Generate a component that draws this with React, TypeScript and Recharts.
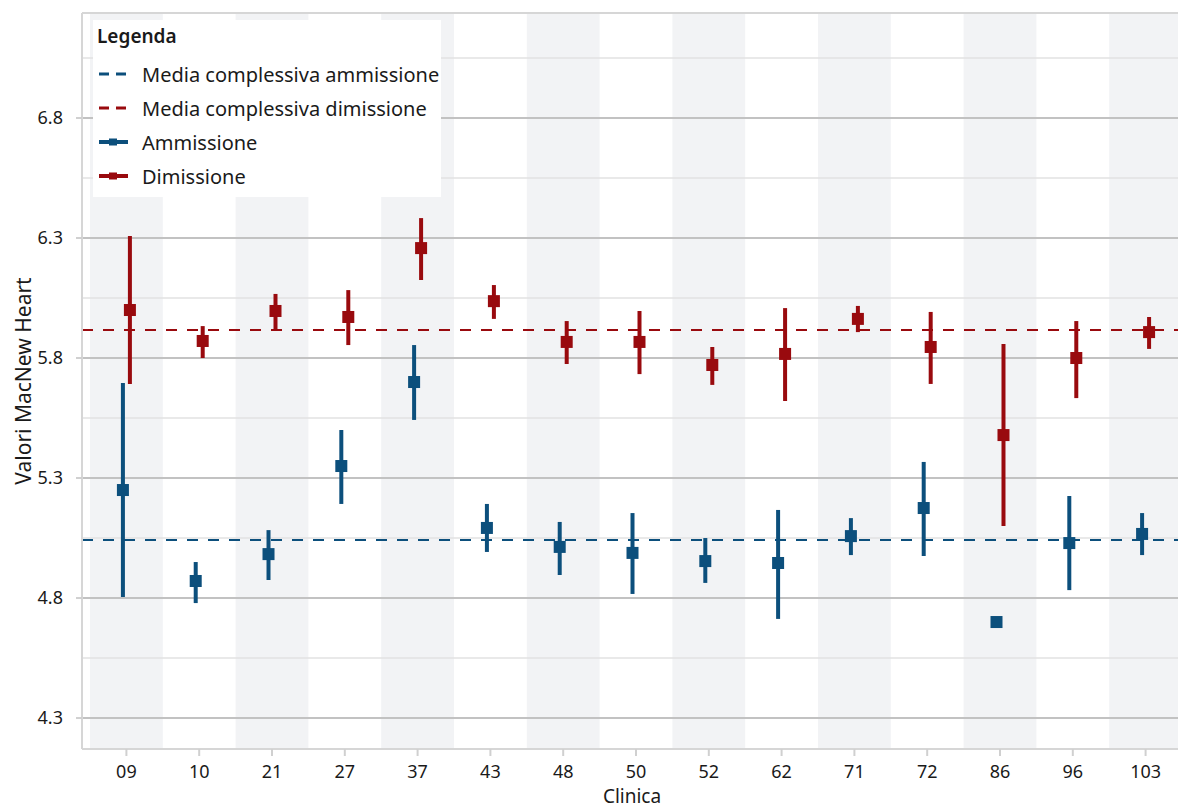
import React from 'react';
import {
  ScatterChart,
  Scatter,
  XAxis,
  YAxis,
  ErrorBar,
  ReferenceLine,
  ReferenceArea,
  Legend,
} from 'recharts';

const clinics = ['09', '10', '21', '27', '37', '43', '48', '50', '52', '62', '71', '72', '86', '96', '103'];

const admMean = [5.25, 4.871, 4.983, 5.35, 5.7, 5.092, 5.013, 4.988, 4.954, 4.946, 5.058, 5.175, 4.7, 5.029, 5.067];
const admLow = [4.804, 4.779, 4.875, 5.192, 5.542, 4.992, 4.896, 4.817, 4.863, 4.713, 4.979, 4.975, 4.7, 4.833, 4.979];
const admHigh = [5.696, 4.95, 5.083, 5.5, 5.854, 5.192, 5.117, 5.154, 5.05, 5.167, 5.133, 5.367, 4.7, 5.225, 5.154];

const disMean = [6.0, 5.871, 5.996, 5.971, 6.258, 6.037, 5.867, 5.867, 5.771, 5.817, 5.963, 5.846, 5.479, 5.8, 5.908];
const disLow = [5.692, 5.8, 5.917, 5.854, 6.125, 5.963, 5.775, 5.733, 5.688, 5.621, 5.908, 5.692, 5.1, 5.633, 5.838];
const disHigh = [6.308, 5.933, 6.067, 6.083, 6.383, 6.104, 5.954, 5.996, 5.846, 6.008, 6.017, 5.992, 5.858, 5.954, 5.971];

const overallAdm = 5.042;
const overallDis = 5.917;

const majorTicks = [4.3, 4.8, 5.3, 5.8, 6.3, 6.8];
const minorTicks = [4.55, 5.05, 5.55, 6.05, 6.55, 7.05];

const BLUE = '#0c4f7c';
const RED = '#990a0e';
const FONT = "'Noto Sans', sans-serif";

const Y_MIN = 4.171;
const Y_MAX = 7.2375;
const DODGE = 0.048;

const build = (mean: number[], low: number[], high: number[], shift: number) =>
  clinics.map((c, i) => ({
    clinic: c,
    x: i + shift,
    y: mean[i],
    err: [mean[i] - low[i], high[i] - mean[i]],
  }));

const admData = build(admMean, admLow, admHigh, -DODGE);
const disData = build(disMean, disLow, disHigh, DODGE);

const square = (color: string) => (props: any) => {
  const { cx, cy } = props;
  return <rect x={cx - 6} y={cy - 6} width={12} height={12} fill={color} />;
};

function LegendBox() {
  const rows = [
    { label: 'Media complessiva ammissione', color: BLUE, dashed: true },
    { label: 'Media complessiva dimissione', color: RED, dashed: true },
    { label: 'Ammissione', color: BLUE, dashed: false },
    { label: 'Dimissione', color: RED, dashed: false },
  ];
  return (
    <div
      style={{
        position: 'relative',
        width: 348,
        height: 177,
        background: '#fff',
        fontFamily: FONT,
        color: '#1a1a1a',
      }}
    >
      <div style={{ position: 'absolute', left: 4, top: 2, fontSize: 19, fontWeight: 600, lineHeight: '28px' }}>
        Legenda
      </div>
      {rows.map((r, i) => (
        <div
          key={r.label}
          style={{
            position: 'absolute',
            left: 0,
            top: 37 + i * 34,
            height: 34,
            display: 'flex',
            alignItems: 'center',
            whiteSpace: 'nowrap',
          }}
        >
          <svg width={49} height={12} style={{ flex: 'none' }}>
            {r.dashed ? (
              <line x1={6} x2={35} y1={6} y2={6} stroke={r.color} strokeWidth={3} strokeDasharray="10 7" />
            ) : (
              <>
                <line x1={6} x2={35} y1={6} y2={6} stroke={r.color} strokeWidth={4} />
                <rect x={16} y={2.5} width={8} height={7} fill={r.color} />
              </>
            )}
          </svg>
          <span style={{ fontSize: 20 }}>{r.label}</span>
        </div>
      ))}
    </div>
  );
}

export default function App() {
  const bands = clinics.map((_, i) => i).filter((i) => i % 2 === 0);
  return (
    <div style={{ width: 1178, height: 808, overflow: 'hidden', position: 'relative', fontFamily: FONT }}>
      <style>{'body{margin:0}'}</style>
      <ScatterChart width={1200} height={808} margin={{ top: 13, right: 10, bottom: 0, left: 0 }}>
        {bands.map((i) => (
          <ReferenceArea
            key={`band-${i}`}
            x1={i - 0.5}
            x2={i + 0.5}
            y1={Y_MIN}
            y2={Y_MAX}
            fill="#f2f3f5"
            fillOpacity={1}
            stroke="none"
          />
        ))}
        {minorTicks.map((v) => (
          <ReferenceLine key={`minor-${v}`} y={v} stroke="#e2e2e2" strokeWidth={1.5} />
        ))}
        {majorTicks.map((v) => (
          <ReferenceLine key={`major-${v}`} y={v} stroke="#c2c2c2" strokeWidth={2} />
        ))}
        <ReferenceLine y={Y_MAX} stroke="#d6d6d6" strokeWidth={2} />
        <ReferenceLine y={overallAdm} stroke={BLUE} strokeWidth={2} strokeDasharray="11 10" />
        <ReferenceLine y={overallDis} stroke={RED} strokeWidth={2} strokeDasharray="11 10" />
        <XAxis
          type="number"
          dataKey="x"
          domain={[-0.61, 14.61]}
          allowDataOverflow
          ticks={clinics.map((_, i) => i)}
          interval={0}
          tickFormatter={(v: number) => clinics[Math.round(v)] ?? ''}
          height={59}
          tickSize={7}
          tickMargin={9}
          tick={{ fontSize: 18, fill: '#1a1a1a' }}
          tickLine={{ stroke: '#d0d0d0', strokeWidth: 2 }}
          axisLine={{ stroke: '#d6d6d6', strokeWidth: 2 }}
          label={{ value: 'Clinica', position: 'insideBottom', offset: 5, fontSize: 19, fill: '#1a1a1a', dx: -4 }}
        />
        <YAxis
          type="number"
          dataKey="y"
          domain={[Y_MIN, Y_MAX]}
          allowDataOverflow
          ticks={majorTicks}
          interval={0}
          tickFormatter={(v: number) => v.toFixed(1)}
          width={82}
          tickSize={6}
          tickMargin={13}
          tick={{ fontSize: 18, fill: '#1a1a1a' }}
          tickLine={{ stroke: '#d0d0d0', strokeWidth: 2 }}
          axisLine={{ stroke: '#d6d6d6', strokeWidth: 2 }}
          label={{
            value: 'Valori MacNew Heart',
            angle: -90,
            position: 'insideLeft',
            offset: 24,
            fontSize: 21,
            fill: '#1a1a1a',
            style: { textAnchor: 'middle' },
          }}
        />
        <Scatter name="Ammissione" data={admData} shape={square(BLUE)} isAnimationActive={false}>
          <ErrorBar dataKey="err" direction="y" width={0} strokeWidth={4} stroke={BLUE} isAnimationActive={false} />
        </Scatter>
        <Scatter name="Dimissione" data={disData} shape={square(RED)} isAnimationActive={false}>
          <ErrorBar dataKey="err" direction="y" width={0} strokeWidth={4} stroke={RED} isAnimationActive={false} />
        </Scatter>
        <Legend
          layout="horizontal"
          verticalAlign="middle"
          align="center"
          content={() => <LegendBox />}
          wrapperStyle={{ position: 'absolute', left: 93, top: 20, width: 348, height: 177 }}
        />
      </ScatterChart>
    </div>
  );
}
